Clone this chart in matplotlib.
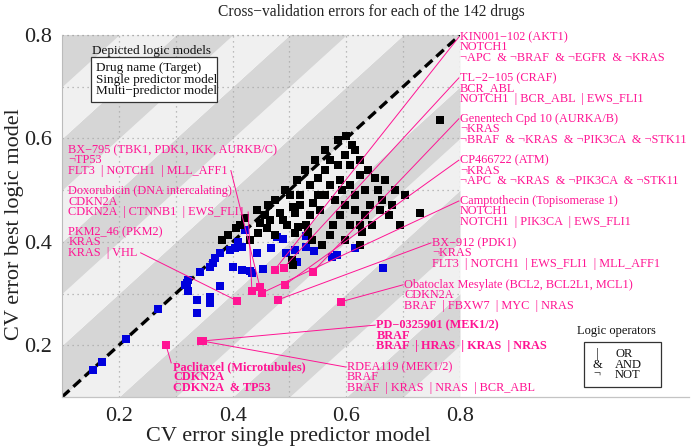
import numpy as np
import matplotlib
matplotlib.use("Agg")
import matplotlib.pyplot as plt

plt.rcParams['font.family'] = ['Liberation Serif', 'DejaVu Serif']

# ---------------- data ----------------
blue_x = [0.154, 0.170, 0.212, 0.269, 0.316, 0.321, 0.321, 0.422, 0.409, 0.416, 0.404, 0.395,
          0.378, 0.369, 0.365, 0.360, 0.342, 0.320, 0.337, 0.360, 0.360, 0.337, 0.378, 0.400,
          0.416, 0.430, 0.434, 0.453, 0.443, 0.467, 0.478, 0.488, 0.494, 0.513, 0.509, 0.529,
          0.530, 0.543, 0.574, 0.583, 0.615, 0.664]
blue_y = [0.152, 0.168, 0.212, 0.270, 0.317, 0.305, 0.326, 0.423, 0.400, 0.390, 0.388, 0.384,
          0.378, 0.369, 0.359, 0.351, 0.342, 0.320, 0.288, 0.293, 0.282, 0.262, 0.315, 0.351,
          0.346, 0.344, 0.340, 0.348, 0.378, 0.388, 0.409, 0.406, 0.378, 0.361, 0.384, 0.411,
          0.390, 0.382, 0.371, 0.375, 0.388, 0.349]

black_x = [0.443, 0.457, 0.448, 0.465, 0.444, 0.460, 0.483, 0.506, 0.509, 0.495, 0.515, 0.530,
           0.509, 0.532, 0.541, 0.553, 0.576, 0.539, 0.430, 0.504, 0.506, 0.518, 0.536, 0.550,
           0.562, 0.571, 0.585, 0.597, 0.606, 0.615, 0.624, 0.589, 0.606, 0.624, 0.638, 0.650,
           0.633, 0.655, 0.668, 0.685, 0.703, 0.659, 0.676, 0.694, 0.729, 0.764, 0.562, 0.580,
           0.597, 0.615, 0.633, 0.589, 0.606, 0.571, 0.597, 0.627, 0.645, 0.624, 0.413, 0.422,
           0.585, 0.599, 0.610, 0.562, 0.545, 0.527, 0.513, 0.492, 0.474, 0.462, 0.392, 0.381,
           0.406, 0.501, 0.518, 0.550, 0.571, 0.592, 0.615, 0.641, 0.662, 0.680, 0.624, 0.557,
           0.474, 0.488, 0.536]
black_y = [0.462, 0.452, 0.437, 0.442, 0.417, 0.427, 0.456, 0.467, 0.456, 0.433, 0.429, 0.433,
           0.417, 0.419, 0.475, 0.462, 0.433, 0.404, 0.404, 0.365, 0.355, 0.491, 0.510, 0.524,
           0.539, 0.558, 0.549, 0.568, 0.549, 0.578, 0.558, 0.520, 0.510, 0.529, 0.539, 0.524,
           0.500, 0.500, 0.520, 0.500, 0.491, 0.462, 0.452, 0.433, 0.456, 0.636, 0.491, 0.481,
           0.471, 0.462, 0.452, 0.452, 0.433, 0.413, 0.404, 0.419, 0.433, 0.394, 0.433, 0.446,
           0.597, 0.605, 0.587, 0.578, 0.558, 0.539, 0.520, 0.500, 0.481, 0.471, 0.413, 0.404,
           0.427, 0.491, 0.471, 0.491, 0.510, 0.500, 0.491, 0.471, 0.481, 0.471, 0.433, 0.394,
           0.413, 0.442, 0.452]

drug_names = ["KIN001\u2212102 (AKT1)", "TL\u22122\u2212105 (CRAF)", "Genentech Cpd 10 (AURKA/B)",
              "CP466722 (ATM)", "Camptothecin (Topisomerase 1)", "BX\u2212912 (PDK1)",
              "Obatoclax Mesylate (BCL2, BCL2L1, MCL1)", "PD\u22120325901 (MEK1/2)",
              "RDEA119 (MEK1/2)", "Paclitaxel (Microtubules)",
              "BX\u2212795 (TBK1, PDK1, IKK, AURKB/C)", "Doxorubicin (DNA intercalating)",
              "PKM2_46 (PKM2)"]
single_models = ["NOTCH1", "BCR_ABL", "\u00acKRAS", "\u00acKRAS", "NOTCH1", "\u00acKRAS", "CDKN2A",
                 "BRAF", "BRAF", "CDKN2A", "\u00acTP53", "CDKN2A", "KRAS"]
multi_models = ["\u00acAPC  & \u00acBRAF  & \u00acEGFR  & \u00acKRAS",
                "NOTCH1  | BCR_ABL  | EWS_FLI1",
                "\u00acBRAF  & \u00acKRAS  & \u00acPIK3CA  & \u00acSTK11",
                "\u00acAPC  & \u00acKRAS  & \u00acPIK3CA  & \u00acSTK11",
                "NOTCH1  | PIK3CA  | EWS_FLI1",
                "FLT3  | NOTCH1  | EWS_FLI1  | MLL_AFF1",
                "BRAF  | FBXW7  | MYC  | NRAS",
                "BRAF  | HRAS  | KRAS  | NRAS",
                "BRAF  | KRAS  | NRAS  | BCR_ABL",
                "CDKN2A  & TP53",
                "FLT3  | NOTCH1  | MLL_AFF1",
                "CDKN2A  | CTNNB1  | EWS_FLI1",
                "KRAS  | VHL"]
pink_x = [0.474, 0.490, 0.541, 0.492, 0.451, 0.480, 0.590, 0.344, 0.348, 0.283, 0.448, 0.434, 0.408]
pink_y = [0.346, 0.350, 0.342, 0.317, 0.301, 0.288, 0.284, 0.208, 0.208, 0.200, 0.313, 0.305, 0.286]
bold_flags = [False, False, False, False, False, False, False, True, False, True, False, False, False]

# ---------------- layout ----------------
label_pos = [(0.800, 0.796), (0.800, 0.717), (0.800, 0.638), (0.800, 0.558), (0.800, 0.479),
             (0.751, 0.398), (0.702, 0.317), (0.653, 0.239), (0.601, 0.158), (0.296, 0.158),
             (0.111, 0.578), (0.111, 0.498), (0.111, 0.419)]
label_side = ['r'] * 9 + ['b', 'l', 'l', 'l']

PINK = '#ff1493'
DARK = '#d6d6d6'
LIGHT = '#f0f0f0'

fig = plt.figure(figsize=(6.97, 4.48), dpi=100)
ax = fig.add_axes([62/697, 1-397/448, (460-62)/697, (397-35)/448])
ax.set_xlim(0.1, 0.8)
ax.set_ylim(0.1, 0.8)

# diagonal stripes
xs = np.array([0.1, 0.8])
for k in range(-8, 8):
    col = DARK if k % 2 == 0 else LIGHT
    ax.fill_between(xs, xs + k*0.1, xs + (k+1)*0.1, color=col, lw=0, zorder=0)

# dotted grid
for v in np.arange(0.2, 0.8, 0.1):
    ax.axvline(v, color='#aaaaaa', ls=(0, (1, 3)), lw=0.9, zorder=1)
    ax.axhline(v, color='#aaaaaa', ls=(0, (1, 3)), lw=0.9, zorder=1)
ax.axhline(0.8, color='#aaaaaa', ls=(0, (1, 3)), lw=0.9, zorder=1, clip_on=False)

# diagonal reference
ax.plot([0.1, 0.8], [0.1, 0.8], color='black', ls=(0, (3, 1.6)), lw=2.4, zorder=2)

ms = 5.6
ax.plot(blue_x, blue_y, 's', color='#0000dd', ms=ms, mew=0, zorder=3)
ax.plot(black_x, black_y, 's', color='black', ms=ms, mew=0, zorder=3)
ax.plot(pink_x, pink_y, 's', color=PINK, ms=ms, mew=0, zorder=4)

for s in ax.spines.values():
    s.set_visible(False)
ax.plot([0.1, 0.1], [0.1, 0.8], color='#bbbbbb', lw=0.8, clip_on=False, zorder=2)
ax.plot([0.1, 1.202], [0.1, 0.1], color='#c4c4c4', lw=0.9, clip_on=False, zorder=2)

ax.set_xticks([0.2, 0.4, 0.6, 0.8])
ax.set_yticks([0.2, 0.4, 0.6, 0.8])
ax.set_xticklabels(['0.2', '0.4', '0.6', '0.8'])
ax.set_yticklabels(['0.2', '0.4', '0.6', '0.8'])
ax.tick_params(length=0, labelsize=16, colors='#222222', pad=7)
fig.text(15/697, 1-224/448, 'CV error best logic model', ha='center', va='center',
         rotation=90, fontsize=16, color='#222222')
fig.text(288/697, 1-436/448, 'CV error single predictor model', ha='center', va='center',
         fontsize=16, color='#222222')

fig.text(371/697, 1-12/448, 'Cross\u2212validation errors for each of the 142 drugs',
         ha='center', va='center', fontsize=11.2, color='#222222')

# annotations
dy = 0.0201
fs = 8.8
fig.canvas.draw()
renderer = fig.canvas.get_renderer()
for i in range(len(drug_names)):
    lx, ly = label_pos[i]
    w = 'bold' if bold_flags[i] else 'normal'
    lines = [drug_names[i], single_models[i], multi_models[i]]
    txts = []
    for j, t in enumerate(lines):
        txts.append(ax.text(lx, ly - j*dy, t, ha='left', va='center', fontsize=fs,
                            color=PINK, weight=w, clip_on=False, zorder=6))
    side = label_side[i]
    if side == 'r':
        ex, ey = lx - 0.002, ly
    elif side == 'b':
        ex, ey = lx - 0.004, ly + 0.008
    else:
        bb = txts[2].get_window_extent(renderer)
        ex, ey = ax.transData.inverted().transform((bb.x1 + 3, (bb.y0 + bb.y1) / 2))
    ax.plot([pink_x[i], ex], [pink_y[i], ey], color=PINK, lw=0.7, zorder=5, clip_on=False)

# legend: depicted logic models
fig.text(152/697, 1-51/448, 'Depicted logic models', ha='center', va='center',
         fontsize=9.5, color='#111111', zorder=7)
box = plt.Rectangle((91/697, 1-102/448), (217-91)/697, (102-57)/448, transform=fig.transFigure,
                    facecolor='white', edgecolor='#333333', lw=0.9, zorder=7)
fig.add_artist(box)
for j, t in enumerate(['Drug name (Target)', 'Single predictor model', 'Multi\u2212predictor model']):
    fig.text(96/697, 1-(68 + 11.7*j)/448, t, ha='left', va='center', fontsize=9.5,
             color='#111111', zorder=8)

# legend: logic operators
fig.text(616/697, 1-331/448, 'Logic operators', ha='center', va='center', fontsize=9, color='#111111')
box2 = plt.Rectangle((584/697, 1-387/448), (661-584)/697, (387-342)/448, transform=fig.transFigure,
                     facecolor='white', edgecolor='#333333', lw=0.9)
fig.add_artist(box2)
for j, (sym, nm) in enumerate([('|', 'OR'), ('&', 'AND'), ('\u00ac', 'NOT')]):
    yy = 1-(354 + 10.5*j)/448
    fig.text(597/697, yy, sym, ha='center', va='center', fontsize=9, color='#111111')
    fig.text(615/697, yy, nm, ha='left', va='center', fontsize=9, color='#111111')

fig.savefig('out.png', dpi=100)
